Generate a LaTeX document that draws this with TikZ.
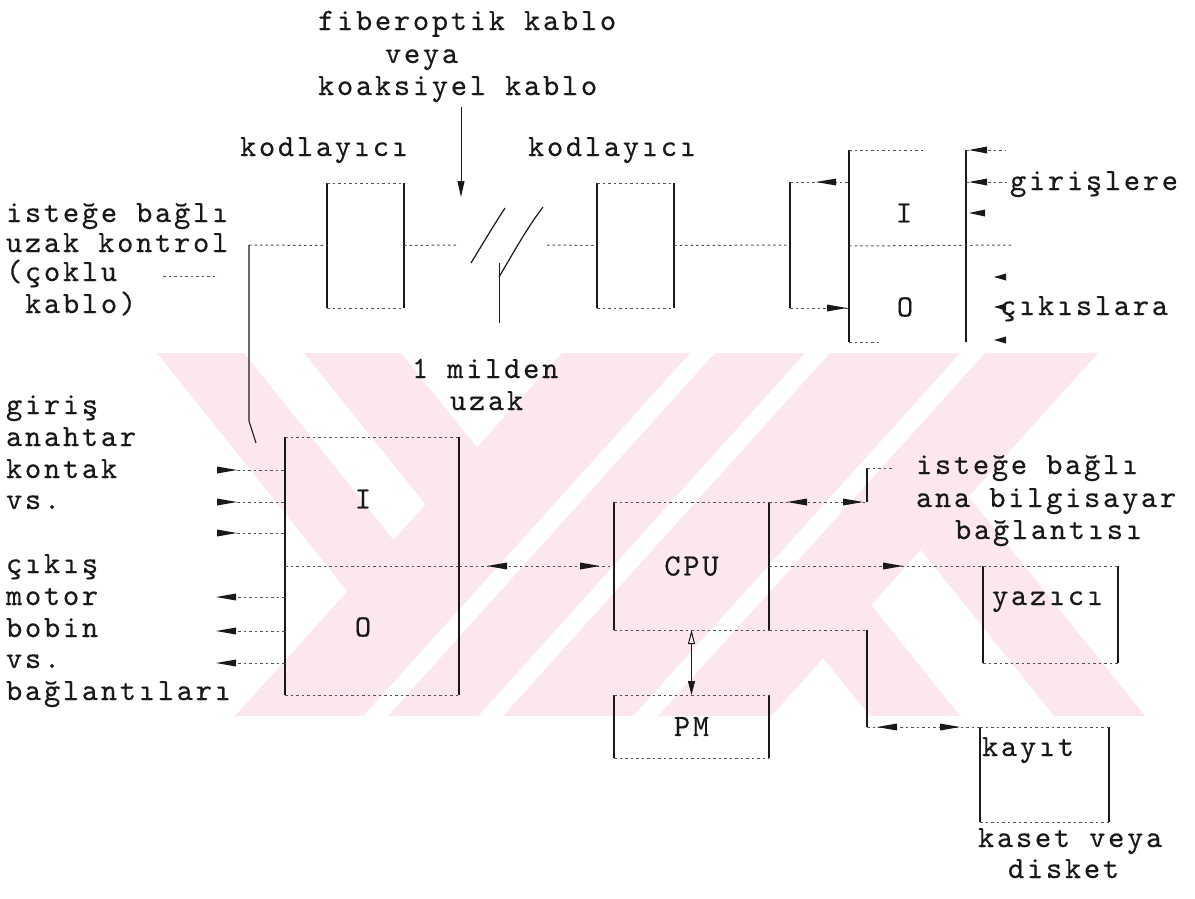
\documentclass[tikz,border=0pt]{standalone}
\usepackage{fontspec}
\usetikzlibrary{arrows.meta}
\newfontfamily\twf{lmmono10-regular.otf}[LetterSpace=8.7,FakeBold=0.3]
\definecolor{wm}{RGB}{252,232,236}
\definecolor{ink}{RGB}{25,25,25}
\newcommand{\twfont}{\twf\fontsize{31}{33}\selectfont}
\newcommand{\tipl}[3][20]{\fill[ink] (#2,#3) -- ++(#1,-3.5) -- ++(0,7) -- cycle;}
\newcommand{\tipr}[3][20]{\fill[ink] (#2,#3) -- ++(-#1,-3.5) -- ++(0,7) -- cycle;}
\newcommand{\boxsides}[1]{%
  \draw[vline] (#1.north west) -- (#1.south west);
  \draw[vline] (#1.north east) -- (#1.south east);
  \draw[hline] (#1.north west) -- (#1.north east);
  \draw[hline] (#1.south west) -- (#1.south east);}
\begin{document}
\begin{tikzpicture}[x=1pt,y=-1pt,
  txt/.style={font=\twfont, inner sep=0, outer sep=0, anchor=base west, text=ink},
  lbl/.style={font=\twfont, inner sep=0, outer sep=0, anchor=center, text=ink},
  vline/.style={draw=ink, line width=1.3pt},
  hline/.style={draw=ink!75, line width=1pt, dash pattern=on 2.5pt off 3pt},
  bx/.style={rectangle, inner sep=0, outer sep=0, draw=none},
]
\useasboundingbox (0,0) rectangle (1195,898);
\fill[white] (0,0) rectangle (1195,898);
% watermark
\begin{scope}
\clip (100,353) rectangle (1160,716);
\fill[wm] (562,353) -- (690,353) -- (363,716) -- (235,716) -- cycle;
\fill[wm] (715,353) -- (805,353) -- (478,716) -- (388,716) -- cycle;
\fill[wm] (830,353) -- (960,353) -- (633,716) -- (503,716) -- cycle;
\fill[wm] (985,353) -- (1098,353) -- (771,716) -- (658,716) -- cycle;
\fill[wm] (157,353) -- (244,353) -- (434,591) -- (347,591) -- cycle;
\fill[wm] (304,353) -- (401,353) -- (535,520) -- (438,520) -- cycle;
\fill[wm] (969,497) -- (1145,716) -- (1054,716) -- (921,550) -- cycle;
\fill[wm] (871,605) -- (960,716) -- (870,716) -- (823,658) -- cycle;
\end{scope}

% boxes
\node[bx, minimum width=77pt, minimum height=125pt] (cod1) at (365.5,245.5) {};
\node[bx, minimum width=77pt, minimum height=125pt] (cod2) at (635.5,245.5) {};
\node[bx, minimum width=174pt, minimum height=258pt] (io) at (372,566) {};
\node[bx, minimum width=155pt, minimum height=128pt] (cpu) at (691.5,566) {};
\node[bx, minimum width=155pt, minimum height=63pt] (pm) at (691.5,726.5) {};
\node[bx, minimum width=135pt, minimum height=97pt] (yaz) at (1050.5,614.5) {};
\node[bx, minimum width=129pt, minimum height=95pt] (kay) at (1044.5,774.5) {};
\node[bx, minimum width=117pt, minimum height=192pt] (rio) at (907.5,246) {};
\boxsides{cod1}
\boxsides{cod2}
\boxsides{io}
\boxsides{cpu}
\boxsides{pm}
\boxsides{yaz}
\boxsides{kay}
\draw[vline] (rio.north west) -- (rio.south west);
\draw[vline] (rio.north east) -- (rio.south east);
\draw[hline] (rio.north west) -- ++(76,0);
\draw[hline] (rio.south west) -- ++(32,0);
\draw[hline] (io.west) -- (io.east);

% texts
\node[txt] (t1) at (318,30) {fiberoptik kablo};
\node[txt] (t2) at (385,63) {veya};
\node[txt] (t3) at (318,95) {koaksiyel kablo};
\node[txt] (kd1) at (240,156) {kodlayıcı};
\node[txt] (kd2) at (528,156) {kodlayıcı};
\node[txt] (ri1) at (6,222) {isteğe bağlı};
\node[txt] (ri2) at (6,252) {uzak kontrol};
\node[txt] (ri3) at (6,281) {(çoklu};
\node[txt] (ri4) at (25,313) {kablo)};
\node[txt] (gl) at (1010,190) {girişlere};
\node[txt] (cl) at (1000,315) {çıkıslara};
\node[lbl] (rI) at (904,213) {I};
\node[lbl] (rO) at (905,307) {O};
\node[txt] (m1) at (412,378) {1 milden};
\node[txt] (m2) at (450,410) {uzak};
\node[txt] (g1) at (6,414) {giriş};
\node[txt] (g2) at (6,446) {anahtar};
\node[txt] (g3) at (6,478) {kontak};
\node[txt] (g4) at (6,509) {vs.};
\node[txt] (c1) at (6,573) {çıkış};
\node[txt] (c2) at (6,605) {motor};
\node[txt] (c3) at (6,637) {bobin};
\node[txt] (c4) at (6,668) {vs.};
\node[txt] (c5) at (6,700) {bağlantıları};
\node[lbl] (iI) at (363,499) {I};
\node[lbl] (iO) at (363,627) {O};
\node[lbl] (cpuT) at (cpu) {CPU};
\node[lbl] (pmT) at (pm) {PM};
\node[txt] (h1) at (916,474) {isteğe bağlı};
\node[txt] (h2) at (916,507) {ana bilgisayar};
\node[txt] (h3) at (955,539) {bağlantısı};
\node[txt] (yt) at (992,605) {yazıcı};
\node[txt] (kt) at (982,756) {kayıt};
\node[txt] (ks1) at (978,847) {kaset veya};
\node[txt] (ks2) at (1008,878) {disket};

% cable arrow
\coordinate (fa) at (461,107);
\coordinate (fb) at (461,197);
\draw[vline, line width=1pt, -{Triangle[length=16pt,width=7pt]}] (fa) -- (fb);

% remote control line
\coordinate (rc) at (249,245);
\coordinate (rcb) at (249,421);
\coordinate (rce) at (256,443);
\draw[hline] (rc) -- (cod1.west);
\draw[vline, line width=1.1pt] (rc) -- (rcb) -- (rce);
\draw[hline] (163,276) -- (218,276);

% coder link with break
\coordinate (br1) at (457,245);
\coordinate (br2) at (547,245);
\draw[hline] (cod1.east) -- (br1);
\draw[hline] (br2) -- (cod2.west);
\draw[vline, line width=1.2pt] (471,263) .. controls (485,240) and (492,228) .. (505,208);
\draw[vline, line width=1.2pt] (499,277) .. controls (515,250) and (527,228) .. (543,207);
\draw[vline, line width=1pt] (499,263) -- (499,323);

% coder2 to remote io
\coordinate (bk) at (790,245);
\coordinate (bkt) at (790,182);
\coordinate (bkb) at (790,308);
\draw[hline] (cod2.east) -- (bk);
\draw[vline] (bkt) -- (bkb);
\draw[hline] (bkt) -- (849,182);
\draw[hline] (bkb) -- (849,308);
\tipl{816}{182}
\tipr{847}{308}

% remote io right side
\draw[hline] (rio.east |- 0,150) -- (1006,150);
\draw[hline] (rio.east |- 0,182) -- (1009,182);
\draw[hline] (rio.west) -- (1012,245);
\tipl[18]{969}{150}
\tipl[18]{969}{182}
\tipl[16]{969}{213}
\tipl[12]{994}{277}
\tipl[12]{994}{307}
\tipl[12]{994}{340}

% io left side
\foreach \yy in {470,502,533} {
  \draw[hline] (237,\yy) -- (285,\yy);
  \tipr{237}{\yy}
}
\foreach \yy in {597,631,663} {
  \draw[hline] (238,\yy) -- (285,\yy);
  \tipl{216}{\yy}
}

% io to cpu
\draw[hline] (io.east) -- (cpu.west);
\tipl{487}{566}
\tipr{600}{566}

% cpu to host
\coordinate (hc) at (867,502);
\coordinate (hct) at (867,468);
\draw[hline] (cpu.north east) -- (hc);
\draw[vline] (hc) -- (hct);
\draw[hline] (hct) -- (893,468);
\tipl{787}{502}
\tipr{863}{502}

% cpu to printer
\draw[hline] (cpu.east) -- (yaz.north west);
\tipr{903}{566}

% cpu to record
\coordinate (rk) at (867,630);
\coordinate (rkb) at (867,727);
\draw[hline] (cpu.south east) -- (rk);
\draw[vline] (rk) -- (rkb);
\draw[hline] (rkb) -- (kay.north west);
\tipl{877}{727}
\tipr{960}{727}

% cpu to pm
\draw[vline, line width=1pt, {Triangle[length=14pt,width=7pt,open]}-{Triangle[length=14pt,width=7pt]}] (cpu.south) -- (pm.north);
\end{tikzpicture}
\end{document}
